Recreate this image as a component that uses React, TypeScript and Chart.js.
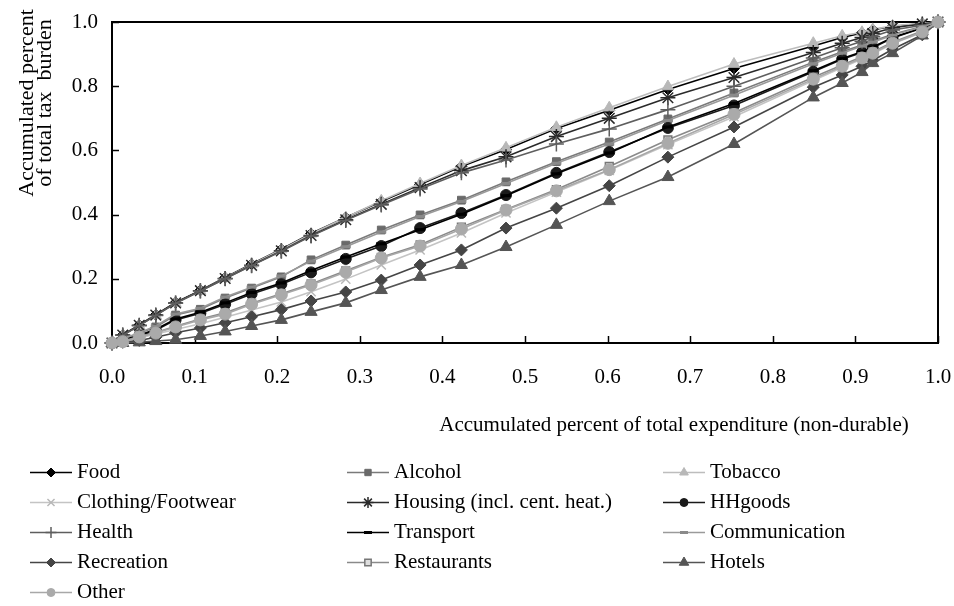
import React, { useEffect, useRef } from 'react';
import { Chart, registerables } from 'chart.js';
import { drawPoint } from 'chart.js/helpers';

Chart.register(...registerables);

// Accumulated share of total (non-durable) expenditure, shared by every series
const xShare = [0, 0.013, 0.033, 0.053, 0.077, 0.107, 0.137, 0.169, 0.205, 0.241, 0.283, 0.326, 0.373, 0.423, 0.477, 0.538, 0.602, 0.673, 0.753, 0.849, 0.884, 0.908, 0.921, 0.945, 0.981, 1.0];

// Accumulated share of total tax burden per commodity group
const food = [0, 0.025, 0.056, 0.088, 0.126, 0.164, 0.204, 0.246, 0.292, 0.341, 0.391, 0.441, 0.494, 0.550, 0.603, 0.668, 0.725, 0.790, 0.855, 0.925, 0.952, 0.966, 0.976, 0.986, 0.995, 1.0];
const alcohol = [0, 0.012, 0.030, 0.050, 0.087, 0.105, 0.140, 0.171, 0.206, 0.259, 0.305, 0.352, 0.399, 0.445, 0.502, 0.565, 0.626, 0.698, 0.779, 0.875, 0.907, 0.928, 0.940, 0.962, 0.986, 1.0];
const tobacco = [0, 0.024, 0.054, 0.086, 0.124, 0.162, 0.203, 0.245, 0.291, 0.340, 0.391, 0.443, 0.497, 0.553, 0.608, 0.672, 0.733, 0.799, 0.869, 0.934, 0.957, 0.968, 0.977, 0.988, 0.996, 1.0];
const clothing = [0, 0.005, 0.015, 0.028, 0.042, 0.060, 0.080, 0.103, 0.128, 0.160, 0.199, 0.243, 0.290, 0.343, 0.405, 0.470, 0.538, 0.618, 0.705, 0.818, 0.858, 0.885, 0.900, 0.932, 0.968, 1.0];
const housing = [0, 0.025, 0.055, 0.087, 0.125, 0.163, 0.201, 0.242, 0.287, 0.335, 0.384, 0.432, 0.484, 0.537, 0.580, 0.643, 0.700, 0.764, 0.827, 0.905, 0.934, 0.952, 0.964, 0.982, 0.994, 1.0];
const hhgoods = [0, 0.008, 0.022, 0.040, 0.072, 0.093, 0.121, 0.153, 0.183, 0.220, 0.262, 0.302, 0.358, 0.405, 0.461, 0.530, 0.595, 0.670, 0.740, 0.845, 0.884, 0.905, 0.920, 0.950, 0.981, 1.0];
const health = [0, 0.024, 0.054, 0.086, 0.124, 0.162, 0.200, 0.241, 0.286, 0.333, 0.382, 0.430, 0.480, 0.530, 0.570, 0.620, 0.667, 0.727, 0.800, 0.888, 0.920, 0.940, 0.954, 0.975, 0.990, 1.0];
const transport = [0, 0.009, 0.024, 0.043, 0.075, 0.096, 0.125, 0.157, 0.187, 0.226, 0.268, 0.309, 0.353, 0.401, 0.459, 0.527, 0.592, 0.673, 0.746, 0.848, 0.886, 0.907, 0.922, 0.952, 0.982, 1.0];
const communication = [0, 0.013, 0.032, 0.053, 0.090, 0.108, 0.143, 0.174, 0.209, 0.255, 0.300, 0.346, 0.394, 0.441, 0.497, 0.560, 0.620, 0.693, 0.772, 0.870, 0.903, 0.925, 0.937, 0.959, 0.985, 1.0];
const recreation = [0, 0.002, 0.008, 0.018, 0.032, 0.047, 0.063, 0.082, 0.104, 0.131, 0.159, 0.196, 0.243, 0.290, 0.358, 0.420, 0.490, 0.579, 0.673, 0.797, 0.835, 0.862, 0.880, 0.915, 0.960, 1.0];
const restaurants = [0, 0.006, 0.020, 0.033, 0.052, 0.075, 0.094, 0.124, 0.153, 0.184, 0.225, 0.267, 0.306, 0.361, 0.416, 0.478, 0.550, 0.633, 0.717, 0.828, 0.866, 0.892, 0.907, 0.937, 0.972, 1.0];
const hotels = [0, 0, 0.002, 0.006, 0.010, 0.022, 0.036, 0.053, 0.072, 0.097, 0.125, 0.165, 0.206, 0.243, 0.299, 0.368, 0.442, 0.517, 0.620, 0.765, 0.810, 0.844, 0.872, 0.903, 0.958, 1.0];
const other = [0, 0.004, 0.019, 0.031, 0.050, 0.072, 0.090, 0.121, 0.150, 0.181, 0.221, 0.265, 0.302, 0.355, 0.414, 0.474, 0.540, 0.622, 0.712, 0.822, 0.862, 0.888, 0.903, 0.934, 0.969, 1.0];

const seriesNames = [
  'Food', 'Alcohol', 'Tobacco',
  'Clothing/Footwear', 'Housing (incl. cent. heat.)', 'HHgoods',
  'Health', 'Transport', 'Communication',
  'Recreation', 'Restaurants', 'Hotels',
  'Other',
];
const seriesValues = [
  food, alcohol, tobacco,
  clothing, housing, hhgoods,
  health, transport, communication,
  recreation, restaurants, hotels,
  other,
];

const xTickStep = 0.1;
const yTickStep = 0.2;
const xTitle = 'Accumulated percent of total expenditure (non-durable)';
const yTitleLines = ['Accumulated percent', 'of total tax  burden'];

type Look = {
  line: string;
  fill: string;
  stroke: string;
  style: string;
  radius: number;
  legendRadius: number;
  markerWidth: number;
};

const looks: Look[] = [
  { line: '#000000', fill: '#000000', stroke: '#000000', style: 'rectRot', radius: 5.5, legendRadius: 4.5, markerWidth: 1 },
  { line: '#7a7a7a', fill: '#6a6a6a', stroke: '#6a6a6a', style: 'rect', radius: 5.5, legendRadius: 4.5, markerWidth: 1 },
  { line: '#bdbdbd', fill: '#b8b8b8', stroke: '#b8b8b8', style: 'triangle', radius: 6.5, legendRadius: 5, markerWidth: 1 },
  { line: '#c4c4c4', fill: '#c4c4c4', stroke: '#b8b8b8', style: 'crossRot', radius: 6.5, legendRadius: 5, markerWidth: 1.5 },
  { line: '#2a2a2a', fill: '#2a2a2a', stroke: '#2a2a2a', style: 'star', radius: 7.5, legendRadius: 5.5, markerWidth: 1.5 },
  { line: '#1a1a1a', fill: '#1a1a1a', stroke: '#1a1a1a', style: 'circle', radius: 5.5, legendRadius: 4, markerWidth: 1 },
  { line: '#5e5e5e', fill: '#5e5e5e', stroke: '#5e5e5e', style: 'cross', radius: 7.5, legendRadius: 5.5, markerWidth: 1.5 },
  { line: '#000000', fill: '#000000', stroke: '#000000', style: 'line', radius: 5, legendRadius: 4, markerWidth: 3 },
  { line: '#9a9a9a', fill: '#8a8a8a', stroke: '#8a8a8a', style: 'line', radius: 5, legendRadius: 4, markerWidth: 3 },
  { line: '#454545', fill: '#454545', stroke: '#454545', style: 'rectRot', radius: 6, legendRadius: 4.5, markerWidth: 1 },
  { line: '#8a8a8a', fill: '#dedede', stroke: '#777777', style: 'rect', radius: 5.5, legendRadius: 4.5, markerWidth: 1.5 },
  { line: '#555555', fill: '#555555', stroke: '#555555', style: 'triangle', radius: 7, legendRadius: 5.5, markerWidth: 1 },
  { line: '#a8a8a8', fill: '#aaaaaa', stroke: '#aaaaaa', style: 'circle', radius: 6, legendRadius: 4, markerWidth: 1 },
];

const FONT = '"Liberation Serif", "Times New Roman", serif';
const FONT_SIZE = 21;
const Y_TITLE_SIZE = 22;

// Frame and inward tick marks, drawn under the series
const framePlugin = {
  id: 'frameTicks',
  beforeDatasetsDraw(chart: any) {
    const { ctx, chartArea } = chart;
    const { left, right, top, bottom } = chartArea;
    ctx.save();
    ctx.strokeStyle = '#000';
    ctx.lineWidth = 2;
    ctx.strokeRect(left, top, right - left, bottom - top);
    ctx.lineWidth = 1.5;
    const xs = chart.scales.x;
    xs.ticks.forEach((t: any) => {
      const px = Math.round(xs.getPixelForValue(t.value)) + 0.5;
      ctx.beginPath();
      ctx.moveTo(px, bottom);
      ctx.lineTo(px, bottom - 7);
      ctx.stroke();
    });
    const ys = chart.scales.y;
    ys.ticks.forEach((t: any) => {
      const py = Math.round(ys.getPixelForValue(t.value)) + 0.5;
      ctx.beginPath();
      ctx.moveTo(left, py);
      ctx.lineTo(left + 7, py);
      ctx.stroke();
    });
    ctx.restore();
  },
};

// Axis titles and a three-column legend
const annotationPlugin = {
  id: 'titlesLegend',
  afterDraw(chart: any) {
    const { ctx } = chart;
    ctx.save();
    ctx.fillStyle = '#000';
    ctx.textBaseline = 'middle';

    ctx.font = `${FONT_SIZE}px ${FONT}`;
    ctx.textAlign = 'center';
    ctx.fillText(xTitle, 674, 425);

    ctx.save();
    ctx.font = `${Y_TITLE_SIZE}px ${FONT}`;
    ctx.translate(36, 103);
    ctx.rotate(-Math.PI / 2);
    ctx.fillText(yTitleLines[0], 0, -9);
    ctx.fillText(yTitleLines[1], 0, 9);
    ctx.restore();

    ctx.font = `${FONT_SIZE}px ${FONT}`;
    const colX = [30, 347, 663];
    const rowY0 = 472;
    const rowGap = 30;
    const lineLen = 42;
    ctx.textAlign = 'left';
    seriesNames.forEach((name, i) => {
      const look = looks[i];
      const x0 = colX[i % 3];
      const y = Math.round(rowY0 + Math.floor(i / 3) * rowGap) + 0.5;
      ctx.strokeStyle = look.line;
      ctx.lineWidth = 1.6;
      ctx.beginPath();
      ctx.moveTo(x0, y);
      ctx.lineTo(x0 + lineLen, y);
      ctx.stroke();
      ctx.fillStyle = look.fill;
      ctx.strokeStyle = look.stroke;
      ctx.lineWidth = look.markerWidth;
      drawPoint(ctx, {
        pointStyle: look.style,
        radius: look.legendRadius,
        rotation: 0,
        borderWidth: look.markerWidth,
      } as any, x0 + lineLen / 2, y);
      ctx.fillStyle = '#000';
      ctx.fillText(name, x0 + lineLen + 5, y);
    });
    ctx.restore();
  },
};

export default function App() {
  const canvasRef = useRef<HTMLCanvasElement | null>(null);

  useEffect(() => {
    const canvas = canvasRef.current;
    if (!canvas) return;
    const datasets = seriesNames.map((name, i) => {
      const look = looks[i];
      return {
        label: name,
        data: xShare.map((x, k) => ({ x, y: seriesValues[i][k] })),
        borderColor: look.line,
        borderWidth: 1.6,
        backgroundColor: look.fill,
        pointStyle: look.style,
        pointRadius: look.radius,
        pointBackgroundColor: look.fill,
        pointBorderColor: look.stroke,
        pointBorderWidth: look.markerWidth,
        tension: 0,
        fill: false,
        clip: false as any,
        order: seriesNames.length - i,
      };
    });

    const chart = new Chart(canvas, {
      type: 'line',
      data: { datasets },
      options: {
        animation: false,
        responsive: false,
        devicePixelRatio: 1,
        events: [],
        layout: { padding: { left: 0, top: 22, right: 16, bottom: 213 } },
        plugins: {
          legend: { display: false },
          tooltip: { enabled: false },
          title: { display: false },
        },
        scales: {
          x: {
            type: 'linear',
            min: 0,
            max: 1,
            grid: { display: false, drawTicks: false },
            border: { display: false },
            ticks: {
              stepSize: xTickStep,
              autoSkip: false,
              maxRotation: 0,
              padding: 22,
              color: '#000',
              font: { family: FONT, size: FONT_SIZE },
              callback: (v: any) => Number(v).toFixed(1),
            },
            afterFit: (scale: any) => {
              scale.height = 50;
              scale.paddingLeft = 0;
              scale.paddingRight = 0;
            },
          },
          y: {
            type: 'linear',
            min: 0,
            max: 1,
            grid: { display: false, drawTicks: false },
            border: { display: false },
            ticks: {
              stepSize: yTickStep,
              padding: 14,
              color: '#000',
              font: { family: FONT, size: FONT_SIZE },
              callback: (v: any) => Number(v).toFixed(1),
            },
            afterFit: (scale: any) => {
              scale.width = 112;
              scale.paddingTop = 0;
              scale.paddingBottom = 0;
            },
          },
        },
      },
      plugins: [framePlugin, annotationPlugin],
    });

    return () => chart.destroy();
  }, []);

  return (
    <div style={{ position: 'absolute', left: 0, top: 0, width: 954, height: 606, background: '#fff' }}>
      <canvas ref={canvasRef} width={954} height={606} style={{ display: 'block', width: 954, height: 606 }} />
    </div>
  );
}
